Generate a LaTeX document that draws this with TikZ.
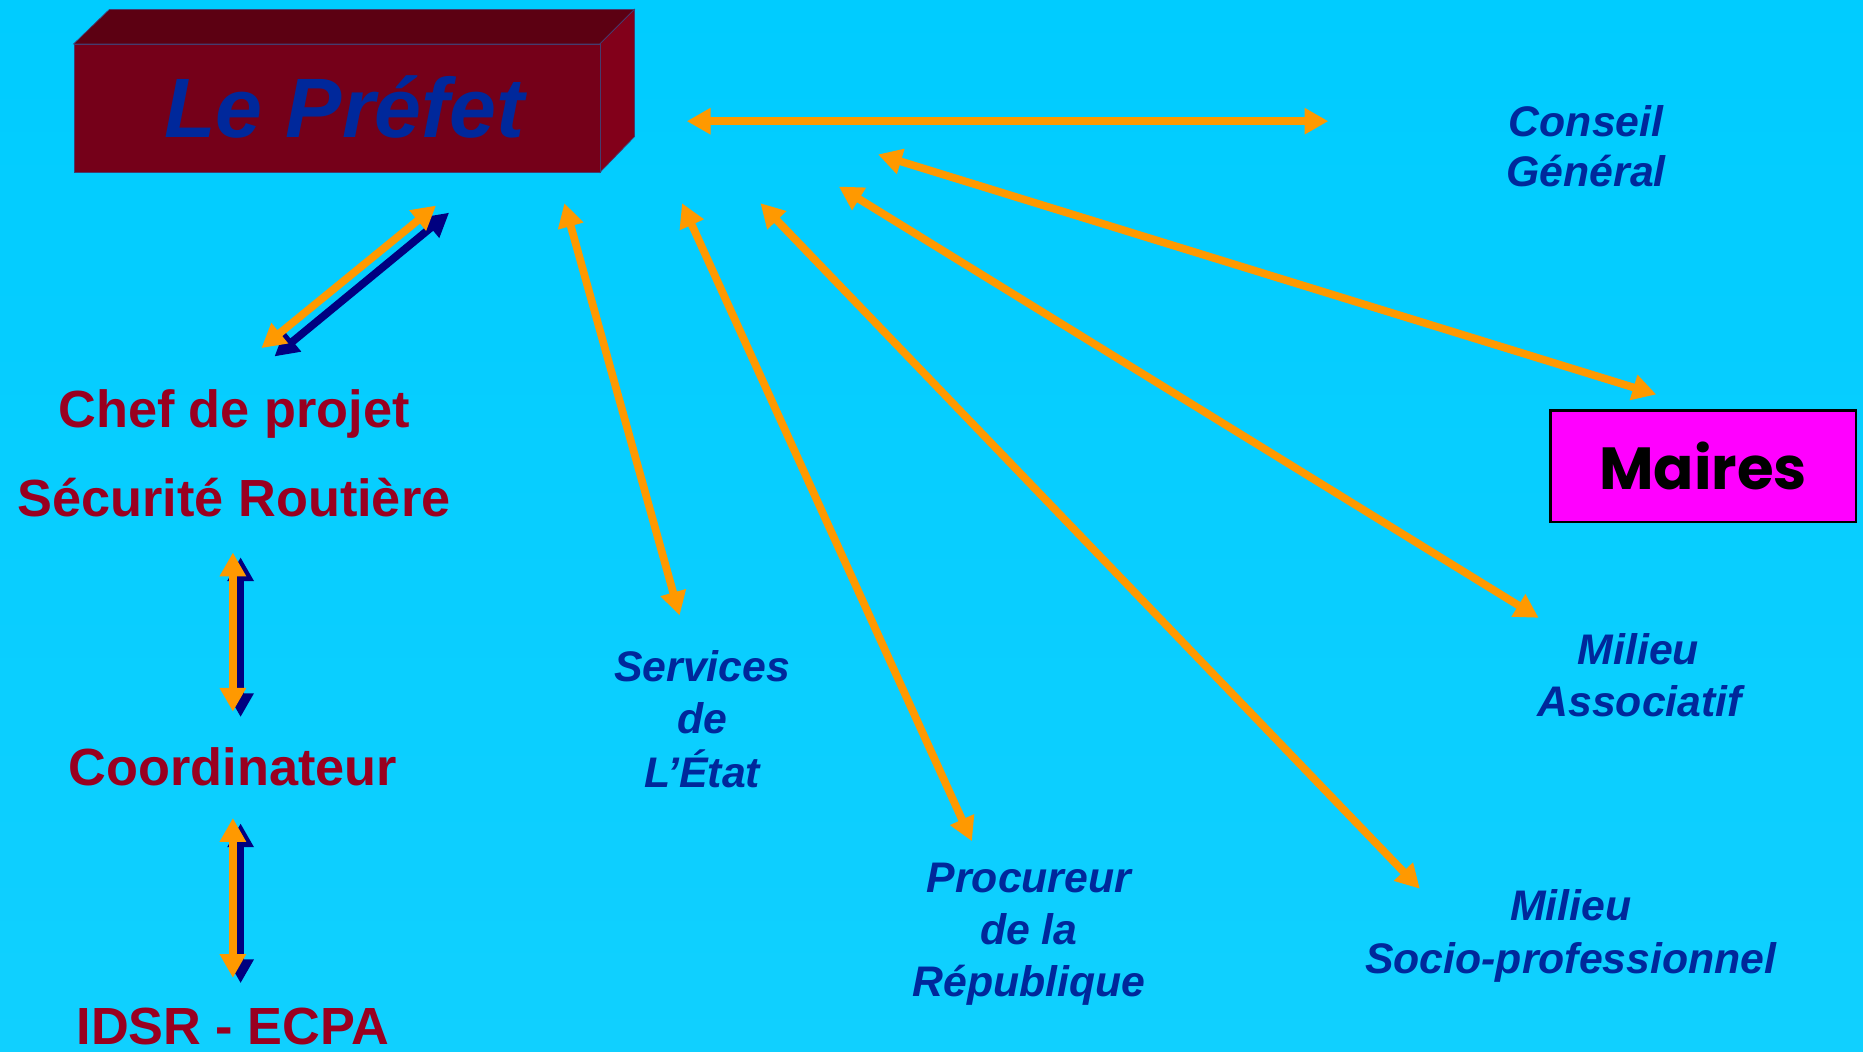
\documentclass[tikz,border=0pt]{standalone}
\usepackage{fontspec}
\setmainfont{Liberation Sans}
\newfontfamily\mairesfont{Poppins}
\usetikzlibrary{arrows.meta}
\definecolor{bgtop}{RGB}{0,204,255}
\definecolor{bgbot}{RGB}{16,208,255}
\definecolor{orng}{RGB}{255,153,0}
\definecolor{navyc}{RGB}{0,0,128}
\definecolor{redtxt}{RGB}{153,0,32}
\definecolor{bluetxt}{RGB}{0,40,155}
\definecolor{boxfront}{RGB}{117,0,25}
\definecolor{boxtop}{RGB}{92,0,18}
\definecolor{boxside}{RGB}{130,0,26}
\definecolor{boxedge}{RGB}{70,60,110}
\definecolor{magentac}{RGB}{255,0,255}
\begin{document}
\begin{tikzpicture}[x=1pt,y=-1pt,
  link/.style={orng, line width=6.5pt,
    {Triangle[length=20pt,width=21pt]}-{Triangle[length=20pt,width=21pt]}},
  shadowlink/.style={link, navyc},
  redlabel/.style={redtxt, anchor=base, inner sep=0pt,
    font=\fontsize{44}{50}\selectfont\bfseries},
  bluelabel/.style={bluetxt, anchor=base, inner sep=0pt,
    font=\fontsize{36}{44}\selectfont\bfseries\itshape}]
\useasboundingbox (0,0) rectangle (1568,885);
\shade[top color=bgtop, bottom color=bgbot] (0,0) rectangle (1568,885);

% 3D box for Le Prefet
\fill[boxtop, draw=boxedge, line width=0.6pt] (62,37) -- (92,8) -- (534,8) -- (505,37) -- cycle;
\fill[boxside, draw=boxedge, line width=0.6pt] (505,37) -- (534,8) -- (534,115) -- (505,145) -- cycle;
\node[fill=boxfront, draw=boxedge, line width=0.6pt, minimum width=443pt, minimum height=108pt,
  anchor=north west, inner sep=0pt] (prefetbox) at (62,37) {};
\node[bluetxt, anchor=base, inner sep=0pt, font=\fontsize{71}{80}\selectfont\bfseries\itshape]
  (prefet) at (290,116) {Le Préfet};

% Maires box
\node[draw=black, line width=2pt, fill=magentac, minimum width=257pt, minimum height=94pt,
  inner sep=0pt, font=\mairesfont\fontsize{50}{60}\selectfont\bfseries] (maires) at (1433.5,392.5) {Maires};

% left column labels
\node[redlabel] (chef) at (197,360) {Chef de projet};
\node[redlabel] (secu) at (197,435) {Sécurité Routière};
\node[redlabel] (coord) at (196,661) {Coordinateur};
\node[redlabel] (idsr) at (196,879) {IDSR - ECPA};

% blue labels
\node[bluelabel] (conseilA) at (1335,115) {Conseil};
\node[bluelabel] (conseilB) at (1335,157) {Général};
\node[bluelabel] (servA) at (591,574) {Services};
\node[bluelabel] (servB) at (591,617) {de};
\node[bluelabel] (servC) at (591,663) {L’État};
\node[bluelabel] (procA) at (866,751) {Procureur};
\node[bluelabel] (procB) at (866,795) {de la};
\node[bluelabel] (procC) at (866,839) {République};
\node[bluelabel] (assoA) at (1379,559) {Milieu};
\node[bluelabel] (assoB) at (1380,603) {Associatif};
\node[bluelabel] (socioA) at (1322,775) {Milieu};
\node[bluelabel] (socioB) at (1322,819) {Socio-professionnel};

% arrow end points
\coordinate (hL) at (578,102);
\coordinate (hR) at (1118,102);
\coordinate (mT) at (739,130);
\coordinate (mB) at (1394,332);
\coordinate (aT) at (706,157);
\coordinate (aB) at (1295,520);
\coordinate (sT) at (640,171);
\coordinate (sB) at (1195,748);
\coordinate (pT) at (574,171);
\coordinate (pB) at (818,708);
\coordinate (eT) at (475,171);
\coordinate (eB) at (572,518);
\coordinate (cO1) at (220,293);
\coordinate (cO2) at (367,173);
\coordinate (cN1) at (231,300);
\coordinate (cN2) at (378,179);
\coordinate (v1O1) at (196,465);
\coordinate (v1O2) at (196,599);
\coordinate (v1N1) at (202.5,469);
\coordinate (v1N2) at (202.5,603.5);
\coordinate (v2O1) at (196,688.5);
\coordinate (v2O2) at (196,823);
\coordinate (v2N1) at (202.5,693);
\coordinate (v2N2) at (202.5,827.5);

% navy shadow arrows
\draw[shadowlink] (cN1) -- (cN2);
\draw[shadowlink] (v1N1) -- (v1N2);
\draw[shadowlink] (v2N1) -- (v2N2);

% orange arrows
\draw[link] (hL) -- (hR);
\draw[link] (mT) -- (mB);
\draw[link] (aT) -- (aB);
\draw[link] (sT) -- (sB);
\draw[link] (pT) -- (pB);
\draw[link] (eT) -- (eB);
\draw[link] (cO1) -- (cO2);
\draw[link] (v1O1) -- (v1O2);
\draw[link] (v2O1) -- (v2O2);
\end{tikzpicture}
\end{document}
